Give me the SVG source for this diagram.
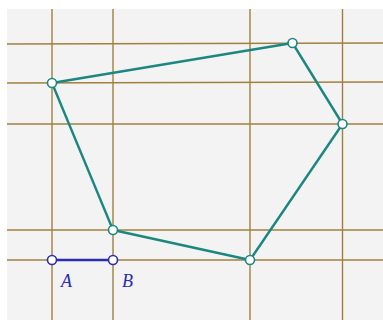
<svg xmlns="http://www.w3.org/2000/svg" width="383" height="320" viewBox="0 0 383 320">
<style>
.grid{stroke:#a0803f;stroke-width:1.4;fill:none}
.poly{stroke:#1b8780;stroke-width:2.4;fill:none;stroke-linejoin:round}
.seg{stroke:#2b2bb5;stroke-width:2.4}
.pt{fill:#ffffff;stroke:#1b8780;stroke-width:1.6}
.ptb{fill:#ffffff;stroke:#2b2bb5;stroke-width:1.6}
.lbl{font-family:"Liberation Serif",serif;font-style:italic;font-size:18px;fill:#2b2bb5}
</style>
<rect x="0" y="0" width="383" height="320" fill="#ffffff"/>
<rect x="7" y="9" width="376" height="311" fill="#f3f3f3"/>
<g id="grid" class="grid">
<line x1="52" y1="9" x2="52" y2="320"/>
<line x1="113" y1="9" x2="113" y2="320"/>
<line x1="250" y1="9" x2="250" y2="320"/>
<line x1="342.5" y1="9" x2="342.5" y2="320"/>
<line x1="7" y1="44" x2="383" y2="43"/>
<line x1="7" y1="83" x2="383" y2="82"/>
<line x1="7" y1="124" x2="383" y2="124"/>
<line x1="7" y1="230" x2="383" y2="230"/>
<line x1="7" y1="260" x2="383" y2="260"/>
</g>
<g id="connectors">
<polygon class="poly" points="52,83 292.5,43 342.5,124 250,260 113,230"/>
<line class="seg" x1="52" y1="260" x2="113" y2="260"/>
</g>
<g id="P1"><circle class="pt" cx="52" cy="83" r="4.5"/></g>
<g id="P2"><circle class="pt" cx="292.5" cy="43" r="4.5"/></g>
<g id="P3"><circle class="pt" cx="342.5" cy="124" r="4.5"/></g>
<g id="P4"><circle class="pt" cx="250" cy="260" r="4.5"/></g>
<g id="P5"><circle class="pt" cx="113" cy="230" r="4.5"/></g>
<g id="A"><circle class="ptb" cx="52" cy="260" r="4.5"/><text class="lbl" x="61" y="287">A</text></g>
<g id="B"><circle class="ptb" cx="113" cy="260" r="4.5"/><text class="lbl" x="122" y="287">B</text></g>
</svg>
